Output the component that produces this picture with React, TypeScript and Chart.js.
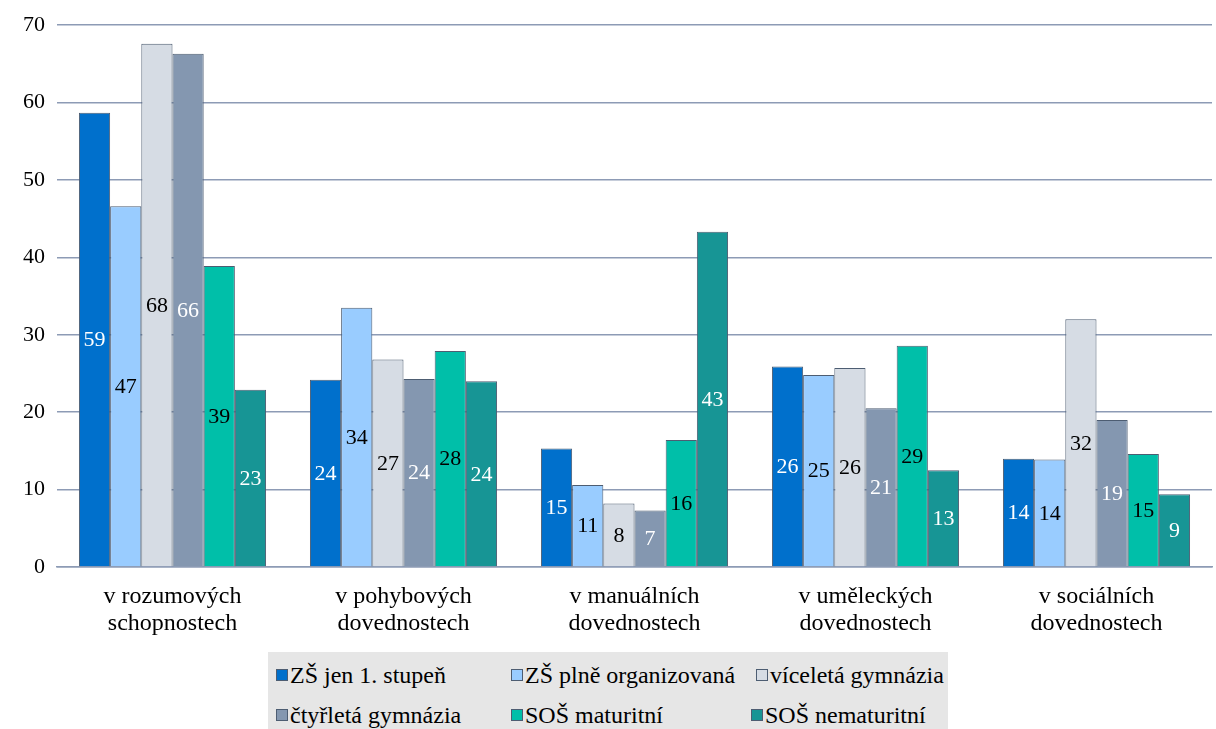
import React, { useEffect, useRef } from "react";
import { Chart, registerables } from "chart.js";

Chart.register(...registerables);

const categories: string[][] = [
  ["v rozumových", "schopnostech"],
  ["v pohybových", "dovednostech"],
  ["v manuálních", "dovednostech"],
  ["v uměleckých", "dovednostech"],
  ["v sociálních", "dovednostech"],
];

const seriesNames = [
  "ZŠ jen 1. stupeň",
  "ZŠ plně organizovaná",
  "víceletá gymnázia",
  "čtyřletá gymnázia",
  "SOŠ maturitní",
  "SOŠ nematuritní",
];

const zsJen1 = [58.7, 24.2, 15.3, 25.9, 14.0];
const zsPlne = [46.6, 33.5, 10.6, 24.8, 13.9];
const viceleta = [67.6, 26.8, 8.2, 25.7, 32.0];
const ctyrleta = [66.3, 24.3, 7.3, 20.5, 19.0];
const sosMat = [38.9, 27.9, 16.4, 28.6, 14.6];
const sosNemat = [22.9, 24.0, 43.3, 12.5, 9.4];

const yTicks = [0, 10, 20, 30, 40, 50, 60, 70];

const colors = ["#0070cc", "#99ccff", "#d6dce4", "#8497b0", "#00bfa9", "#179595"];
const labelColors = ["#ffffff", "#000000", "#000000", "#ffffff", "#000000", "#ffffff"];

const SERIF = "'Liberation Serif', 'Times New Roman', serif";

const valueLabels = {
  id: "valueLabels",
  afterDatasetsDraw(chart: any) {
    const ctx = chart.ctx;
    ctx.save();
    ctx.font = `22px ${SERIF}`;
    ctx.textAlign = "center";
    ctx.textBaseline = "middle";
    chart.data.datasets.forEach((ds: any, di: number) => {
      const meta = chart.getDatasetMeta(di);
      meta.data.forEach((bar: any, i: number) => {
        const v = ds.data[i];
        const y = (bar.y + bar.base) / 2;
        ctx.fillStyle = labelColors[di];
        ctx.fillText(String(Math.round(v)), bar.x, y + 1);
      });
    });
    ctx.restore();
  },
};

export default function App() {
  const ref = useRef<HTMLCanvasElement>(null);
  useEffect(() => {
    const seriesData = [zsJen1, zsPlne, viceleta, ctyrleta, sosMat, sosNemat];
    const chart = new Chart(ref.current!, {
      type: "bar",
      data: {
        labels: categories,
        datasets: seriesData.map((d, i) => ({
          label: seriesNames[i],
          data: d,
          backgroundColor: colors[i],
          borderColor: "#4d5d72",
          borderWidth: 1,
          categoryPercentage: 0.81,
          barPercentage: 1,
        })),
      },
      options: {
        animation: false,
        responsive: false,
        maintainAspectRatio: false,
        layout: { padding: { top: 22, right: 4, left: 0, bottom: 0 } },
        plugins: { legend: { display: false }, tooltip: { enabled: false } },
        scales: {
          x: {
            grid: { display: false },
            border: { color: "#8d9bb5", width: 1.5 },
            ticks: {
              color: "#000",
              font: { family: SERIF, size: 24, lineHeight: 1.1 },
              padding: 9,
              maxRotation: 0,
            },
            afterFit: (s: any) => {
              s.height = 83;
            },
          },
          y: {
            min: 0,
            max: 70,
            afterBuildTicks: (s: any) => {
              s.ticks = yTicks.map((v) => ({ value: v }));
            },
            grid: { color: "#8d9bb5", lineWidth: 1.5, drawTicks: false },
            border: { display: false },
            ticks: {
              color: "#000",
              font: { family: SERIF, size: 22 },
              padding: 12,
            },
            afterFit: (s: any) => {
              s.width = 57;
            },
          },
        },
      },
      plugins: [valueLabels],
    });
    return () => chart.destroy();
  }, []);

  const legendPos = [
    { l: 276, t: 663 },
    { l: 511, t: 663 },
    { l: 756, t: 663 },
    { l: 276, t: 703 },
    { l: 511, t: 703 },
    { l: 751, t: 703 },
  ];

  return (
    <div style={{ position: "fixed", left: 0, top: 0, width: 1216, height: 729, background: "#fff" }}>
      <canvas ref={ref} width={1216} height={650} style={{ position: "absolute", left: 0, top: 0 }} />
      <div
        style={{
          position: "absolute",
          left: 268,
          top: 652,
          width: 680,
          height: 77,
          background: "#e6e6e6",
        }}
      />
      {seriesNames.map((n, i) => (
        <div
          key={n}
          style={{
            position: "absolute",
            left: legendPos[i].l,
            top: legendPos[i].t,
            display: "flex",
            alignItems: "center",
            fontFamily: SERIF,
            fontSize: 24,
            lineHeight: "24px",
            color: "#000",
            whiteSpace: "nowrap",
          }}
        >
          <span
            style={{
              display: "inline-block",
              width: 10,
              height: 10,
              background: colors[i],
              border: "1px solid #4d5d72",
              marginRight: 2,
            }}
          />
          {n}
        </div>
      ))}
    </div>
  );
}
